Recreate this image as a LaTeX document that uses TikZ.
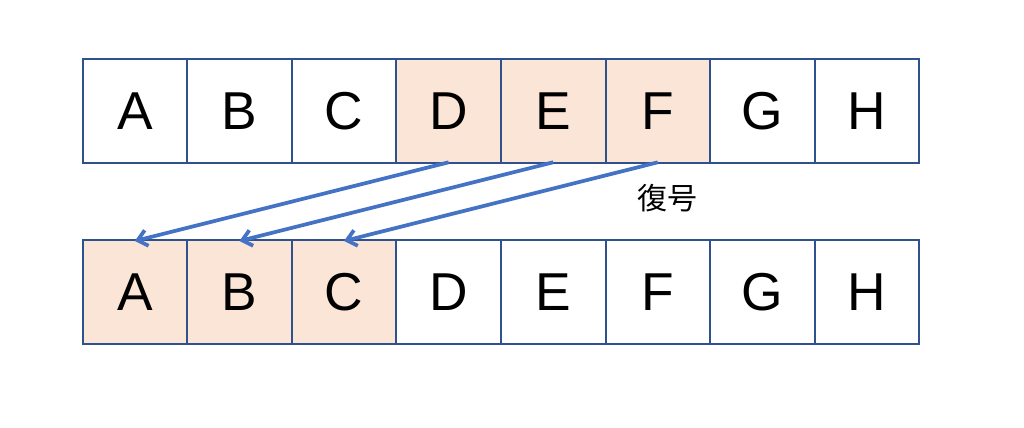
\documentclass[tikz,border=0pt]{standalone}
\usepackage{fontspec}
\setmainfont{Liberation Sans}
\newfontfamily\jpfont{Noto Sans CJK JP}
\usetikzlibrary{arrows.meta}

\definecolor{cellline}{RGB}{47,82,143}
\definecolor{cellfill}{RGB}{251,229,214}
\definecolor{arrowblue}{RGB}{68,114,196}

\tikzset{every picture/.style={line width=0.75pt}}
\tikzset{
	cell/.style={draw=cellline, line width=1.5pt, minimum width=78.45pt, minimum height=78pt, inner sep=0pt, font=\fontsize{40}{40}\selectfont},
	decode/.style={draw=arrowblue, line width=2.8pt, -{Straight Barb[length=7pt,width=12pt]}}
}

\begin{document}
\begin{tikzpicture}[x=0.75pt,y=0.75pt,yscale=-1,xscale=1]
	\useasboundingbox (0,0) rectangle (1024,428);

	% upper row
	\foreach \l/\c [count=\i] in {A/white,B/white,C/white,D/cellfill,E/cellfill,F/cellfill,G/white,H/white}
		\node [cell, fill=\c] (top\l) at ({82.5+104.6*(\i-0.5)},111.3) {\l};

	% lower row
	\foreach \l/\c [count=\i] in {A/cellfill,B/cellfill,C/cellfill,D/white,E/white,F/white,G/white,H/white}
		\node [cell, fill=\c] (bot\l) at ({82.5+104.6*(\i-0.5)},292) {\l};

	% arrows
	\draw [decode] ([yshift=-1.5pt]topD.south) -- ([yshift=1.5pt]botA.north);
	\draw [decode] ([yshift=-1.5pt]topE.south) -- ([yshift=1.5pt]botB.north);
	\draw [decode] ([yshift=-1.5pt]topF.south) -- ([yshift=1.5pt]botC.north);

	% Text Node
	\node [font=\jpfont\fontsize{22.5}{22.5}\selectfont] (label) at (667,198) {復号};

\end{tikzpicture}
\end{document}
